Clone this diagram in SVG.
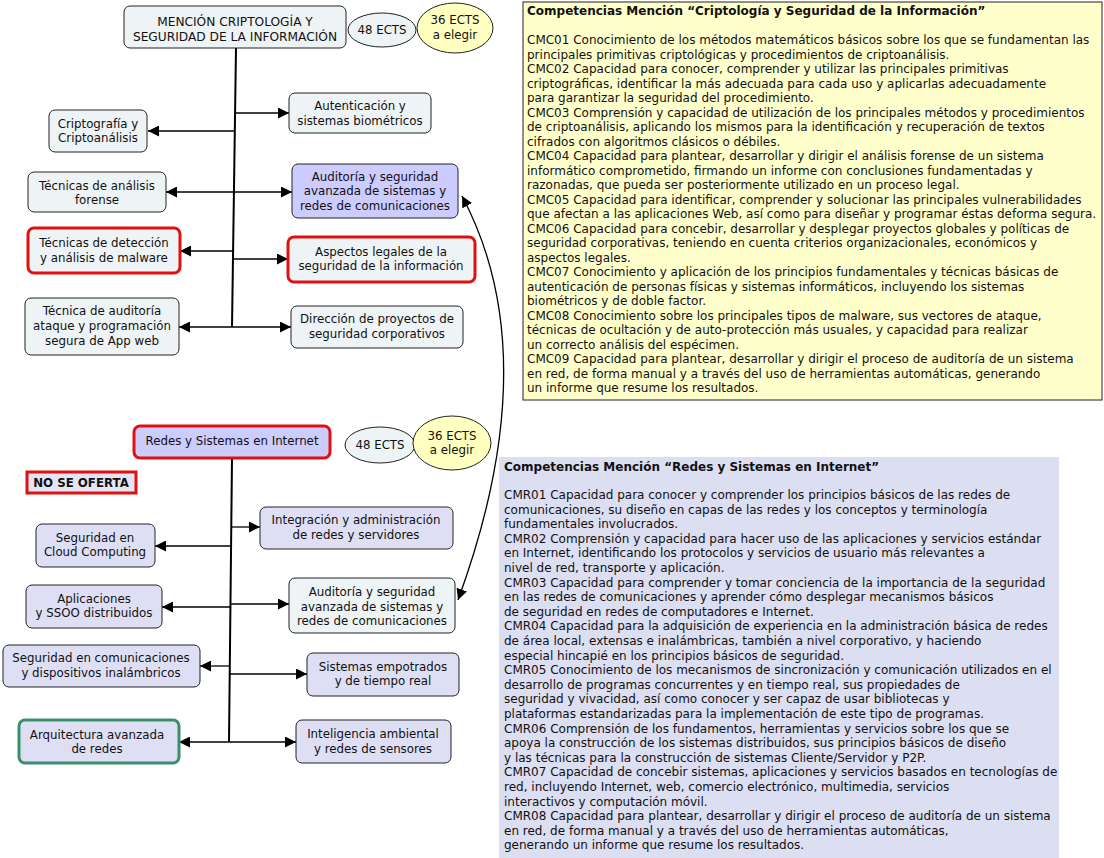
<svg xmlns="http://www.w3.org/2000/svg" width="1104" height="858" viewBox="0 0 1104 858">
<style>
text{font-family:"DejaVu Sans",sans-serif;font-size:11.8px;fill:#111}
.c{text-anchor:middle}
.n{fill:#eef3f5;stroke:#222;stroke-width:1}
.p{fill:#ccccff;stroke:#222;stroke-width:1}
.l{fill:#dedff5;stroke:#222;stroke-width:1}
.red{stroke:#e01010;stroke-width:3}
.grn{stroke:#3a8f6a;stroke-width:3}
.e1{fill:#eef3f5;stroke:#222}
.e2{fill:#ffffc0;stroke:#222}
.con line,.con path{stroke:#000;stroke-width:1.3;fill:none}
.trunk{stroke-width:2!important}
.bt{font-size:12px}
.b{font-weight:bold}
.up{font-size:12.2px}
</style>
<defs>
<marker id="a" viewBox="0 0 10 10" refX="10" refY="5" markerWidth="11" markerHeight="11" markerUnits="userSpaceOnUse" orient="auto-start-reverse">
<path d="M0,0 L10,5 L0,10 Z" fill="#000"/>
</marker>
</defs>
<rect width="1104" height="858" fill="#fff"/>

<g class="con">
<line class="trunk" x1="236" y1="48" x2="232" y2="327"/>
<line x1="234" y1="131" x2="148" y2="131" marker-end="url(#a)"/>
<line x1="233" y1="192" x2="166" y2="192" marker-end="url(#a)"/>
<line x1="233" y1="251" x2="180" y2="251" marker-end="url(#a)"/>
<line x1="232" y1="327" x2="179" y2="327" marker-end="url(#a)"/>
<line x1="235" y1="113" x2="289" y2="113" marker-end="url(#a)"/>
<line x1="234" y1="192" x2="292" y2="192" marker-end="url(#a)"/>
<line x1="233" y1="259" x2="288" y2="259" marker-end="url(#a)"/>
<line x1="232" y1="327" x2="291" y2="327" marker-end="url(#a)"/>
<path d="M462,196 C512,290 524,420 458,600" marker-start="url(#a)" marker-end="url(#a)"/>
<line class="trunk" x1="232" y1="458" x2="229" y2="742"/>
<line x1="231" y1="546" x2="155" y2="546" marker-end="url(#a)"/>
<line x1="231" y1="607" x2="162" y2="607" marker-end="url(#a)"/>
<line x1="230" y1="666" x2="200" y2="666" marker-end="url(#a)"/>
<line x1="229" y1="742" x2="179" y2="742" marker-end="url(#a)"/>
<line x1="232" y1="527" x2="260" y2="527" marker-end="url(#a)"/>
<line x1="231" y1="604" x2="289" y2="604" marker-end="url(#a)"/>
<line x1="230" y1="674" x2="307" y2="674" marker-end="url(#a)"/>
<line x1="229" y1="742" x2="296" y2="742" marker-end="url(#a)"/>
</g>

<g id="main1"><rect class="n" x="124" y="6" width="222" height="42" rx="6"/><text class="c up" x="235" y="26">MENCIÓN CRIPTOLOGÍA Y</text><text class="c up" x="235" y="41">SEGURIDAD DE LA INFORMACIÓN</text></g>
<g id="ects48a"><ellipse class="e1" cx="382" cy="30" rx="34" ry="17"/><text class="c" x="382" y="34">48 ECTS</text></g>
<g id="ects36a"><ellipse class="e2" cx="455" cy="28" rx="38" ry="25"/><text class="c" x="455" y="24">36 ECTS</text><text class="c" x="455" y="39">a elegir</text></g>
<g id="cripto"><rect class="n" x="49" y="110" width="98" height="42" rx="6"/><text class="c" x="98" y="128">Criptografía y</text><text class="c" x="98" y="142">Criptoanálisis</text></g>
<g id="forense"><rect class="n" x="28" y="172" width="138" height="40" rx="6"/><text class="c" x="97" y="190">Técnicas de análisis</text><text class="c" x="97" y="204">forense</text></g>
<g id="malware"><rect class="n red" x="28" y="228" width="152" height="45" rx="6"/><text class="c" x="104" y="247">Técnicas de detección</text><text class="c" x="104" y="262">y análisis de malware</text></g>
<g id="appweb"><rect class="n" x="25" y="298" width="154" height="57" rx="6"/><text class="c" x="102" y="315">Técnica de auditoría</text><text class="c" x="102" y="330">ataque y programación</text><text class="c" x="102" y="345">segura de App web</text></g>
<g id="autent"><rect class="n" x="289" y="93" width="142" height="40" rx="6"/><text class="c" x="360" y="110">Autenticación y</text><text class="c" x="360" y="125">sistemas biométricos</text></g>
<g id="audit1"><rect class="p" x="292" y="164" width="166" height="54" rx="6"/><text class="c" x="375" y="181">Auditoría y seguridad</text><text class="c" x="375" y="195">avanzada de sistemas y</text><text class="c" x="375" y="210">redes de comunicaciones</text></g>
<g id="legal"><rect class="n red" x="288" y="237" width="187" height="45" rx="6"/><text class="c" x="381" y="256">Aspectos legales de la</text><text class="c" x="381" y="270">seguridad de la información</text></g>
<g id="direccion"><rect class="n" x="291" y="306" width="172" height="42" rx="6"/><text class="c" x="377" y="323">Dirección de proyectos de</text><text class="c" x="377" y="338">seguridad corporativos</text></g>

<g id="comp1"><rect x="523" y="2" width="579" height="398" fill="#ffffcc" stroke="#222"/>
<text class="bt b" x="527" y="15">Competencias Mención “Criptología y Seguridad de la Información”</text>
<text class="bt" x="527" y="44">CMC01 Conocimiento de los métodos matemáticos básicos sobre los que se fundamentan las</text>
<text class="bt" x="527" y="58.5">principales primitivas criptológicas y procedimientos de criptoanálisis.</text>
<text class="bt" x="527" y="73">CMC02 Capacidad para conocer, comprender y utilizar las principales primitivas</text>
<text class="bt" x="527" y="87.5">criptográficas, identificar la más adecuada para cada uso y aplicarlas adecuadamente</text>
<text class="bt" x="527" y="102">para garantizar la seguridad del procedimiento.</text>
<text class="bt" x="527" y="116.5">CMC03 Comprensión y capacidad de utilización de los principales métodos y procedimientos</text>
<text class="bt" x="527" y="131">de criptoanálisis, aplicando los mismos para la identificación y recuperación de textos</text>
<text class="bt" x="527" y="145.5">cifrados con algoritmos clásicos o débiles.</text>
<text class="bt" x="527" y="160">CMC04 Capacidad para plantear, desarrollar y dirigir el análisis forense de un sistema</text>
<text class="bt" x="527" y="174.5">informático comprometido, firmando un informe con conclusiones fundamentadas y</text>
<text class="bt" x="527" y="189">razonadas, que pueda ser posteriormente utilizado en un proceso legal.</text>
<text class="bt" x="527" y="203.5">CMC05 Capacidad para identificar, comprender y solucionar las principales vulnerabilidades</text>
<text class="bt" x="527" y="218">que afectan a las aplicaciones Web, así como para diseñar y programar éstas deforma segura.</text>
<text class="bt" x="527" y="232.5">CMC06 Capacidad para concebir, desarrollar y desplegar proyectos globales y políticas de</text>
<text class="bt" x="527" y="247">seguridad corporativas, teniendo en cuenta criterios organizacionales, económicos y</text>
<text class="bt" x="527" y="261.5">aspectos legales.</text>
<text class="bt" x="527" y="276">CMC07 Conocimiento y aplicación de los principios fundamentales y técnicas básicas de</text>
<text class="bt" x="527" y="290.5">autenticación de personas físicas y sistemas informáticos, incluyendo los sistemas</text>
<text class="bt" x="527" y="305">biométricos y de doble factor.</text>
<text class="bt" x="527" y="319.5">CMC08 Conocimiento sobre los principales tipos de malware, sus vectores de ataque,</text>
<text class="bt" x="527" y="334">técnicas de ocultación y de auto-protección más usuales, y capacidad para realizar</text>
<text class="bt" x="527" y="348.5">un correcto análisis del espécimen.</text>
<text class="bt" x="527" y="363">CMC09 Capacidad para plantear, desarrollar y dirigir el proceso de auditoría de un sistema</text>
<text class="bt" x="527" y="377.5">en red, de forma manual y a través del uso de herramientas automáticas, generando</text>
<text class="bt" x="527" y="392">un informe que resume los resultados.</text>
</g>

<g id="main2"><rect class="p red" x="134" y="426" width="196" height="32" rx="6"/><text class="c" x="232" y="445">Redes y Sistemas en Internet</text></g>
<g id="ects48b"><ellipse class="e1" cx="380" cy="445" rx="35" ry="18"/><text class="c" x="380" y="449">48 ECTS</text></g>
<g id="ects36b"><ellipse class="e2" cx="452" cy="443" rx="39" ry="27"/><text class="c" x="452" y="440">36 ECTS</text><text class="c" x="452" y="454">a elegir</text></g>
<g id="nooferta"><rect x="27" y="472" width="109" height="21" fill="#e4e4f4" stroke="#e01010" stroke-width="3"/><text class="c b" x="81" y="487">NO SE OFERTA</text></g>
<g id="cloud"><rect class="l" x="36" y="524" width="119" height="43" rx="6"/><text class="c" x="95" y="542">Seguridad en</text><text class="c" x="95" y="556">Cloud Computing</text></g>
<g id="ssoo"><rect class="l" x="26" y="585" width="136" height="43" rx="6"/><text class="c" x="94" y="603">Aplicaciones</text><text class="c" x="94" y="617">y SSOO distribuidos</text></g>
<g id="inalamb"><rect class="l" x="3" y="645" width="197" height="42" rx="6"/><text class="c" x="101" y="662">Seguridad en comunicaciones</text><text class="c" x="101" y="677">y dispositivos inalámbricos</text></g>
<g id="arquit"><rect class="l grn" x="19" y="720" width="160" height="43" rx="6"/><text class="c" x="97" y="739">Arquitectura avanzada</text><text class="c" x="97" y="753">de redes</text></g>
<g id="integ"><rect class="l" x="260" y="507" width="193" height="42" rx="6"/><text class="c" x="356" y="524">Integración y administración</text><text class="c" x="356" y="539">de redes y servidores</text></g>
<g id="audit2"><rect class="n" x="289" y="578" width="166" height="55" rx="6"/><text class="c" x="372" y="596">Auditoría y seguridad</text><text class="c" x="372" y="611">avanzada de sistemas y</text><text class="c" x="372" y="625">redes de comunicaciones</text></g>
<g id="empotr"><rect class="l" x="307" y="653" width="152" height="43" rx="6"/><text class="c" x="383" y="671">Sistemas empotrados</text><text class="c" x="383" y="685">y de tiempo real</text></g>
<g id="intelig"><rect class="l" x="296" y="720" width="155" height="43" rx="6"/><text class="c" x="373" y="738">Inteligencia ambiental</text><text class="c" x="373" y="753">y redes de sensores</text></g>

<g id="comp2"><rect x="499" y="457" width="560" height="401" fill="#dcdef2"/>
<text class="bt b" x="504" y="471">Competencias Mención “Redes y Sistemas en Internet”</text>
<text class="bt" x="504" y="499">CMR01 Capacidad para conocer y comprender los principios básicos de las redes de</text>
<text class="bt" x="504" y="513.6">comunicaciones, su diseño en capas de las redes y los conceptos y terminología</text>
<text class="bt" x="504" y="528.2">fundamentales involucrados.</text>
<text class="bt" x="504" y="542.8">CMR02 Comprensión y capacidad para hacer uso de las aplicaciones y servicios estándar</text>
<text class="bt" x="504" y="557.4">en Internet, identificando los protocolos y servicios de usuario más relevantes a</text>
<text class="bt" x="504" y="572">nivel de red, transporte y aplicación.</text>
<text class="bt" x="504" y="586.6">CMR03 Capacidad para comprender y tomar conciencia de la importancia de la seguridad</text>
<text class="bt" x="504" y="601.2">en las redes de comunicaciones y aprender cómo desplegar mecanismos básicos</text>
<text class="bt" x="504" y="615.8">de seguridad en redes de computadores e Internet.</text>
<text class="bt" x="504" y="630.4">CMR04 Capacidad para la adquisición de experiencia en la administración básica de redes</text>
<text class="bt" x="504" y="645">de área local, extensas e inalámbricas, también a nivel corporativo, y haciendo</text>
<text class="bt" x="504" y="659.6">especial hincapié en los principios básicos de seguridad.</text>
<text class="bt" x="504" y="674.2">CMR05 Conocimiento de los mecanismos de sincronización y comunicación utilizados en el</text>
<text class="bt" x="504" y="688.8">desarrollo de programas concurrentes y en tiempo real, sus propiedades de</text>
<text class="bt" x="504" y="703.4">seguridad y vivacidad, así como conocer y ser capaz de usar bibliotecas y</text>
<text class="bt" x="504" y="718">plataformas estandarizadas para la implementación de este tipo de programas.</text>
<text class="bt" x="504" y="732.6">CMR06 Comprensión de los fundamentos, herramientas y servicios sobre los que se</text>
<text class="bt" x="504" y="747.2">apoya la construcción de los sistemas distribuidos, sus principios básicos de diseño</text>
<text class="bt" x="504" y="761.8">y las técnicas para la construcción de sistemas Cliente/Servidor y P2P.</text>
<text class="bt" x="504" y="776.4">CMR07 Capacidad de concebir sistemas, aplicaciones y servicios basados en tecnologías de</text>
<text class="bt" x="504" y="791">red, incluyendo Internet, web, comercio electrónico, multimedia, servicios</text>
<text class="bt" x="504" y="805.6">interactivos y computación móvil.</text>
<text class="bt" x="504" y="820.2">CMR08 Capacidad para plantear, desarrollar y dirigir el proceso de auditoría de un sistema</text>
<text class="bt" x="504" y="834.8">en red, de forma manual y a través del uso de herramientas automáticas,</text>
<text class="bt" x="504" y="849.4">generando un informe que resume los resultados.</text>
</g>
</svg>
